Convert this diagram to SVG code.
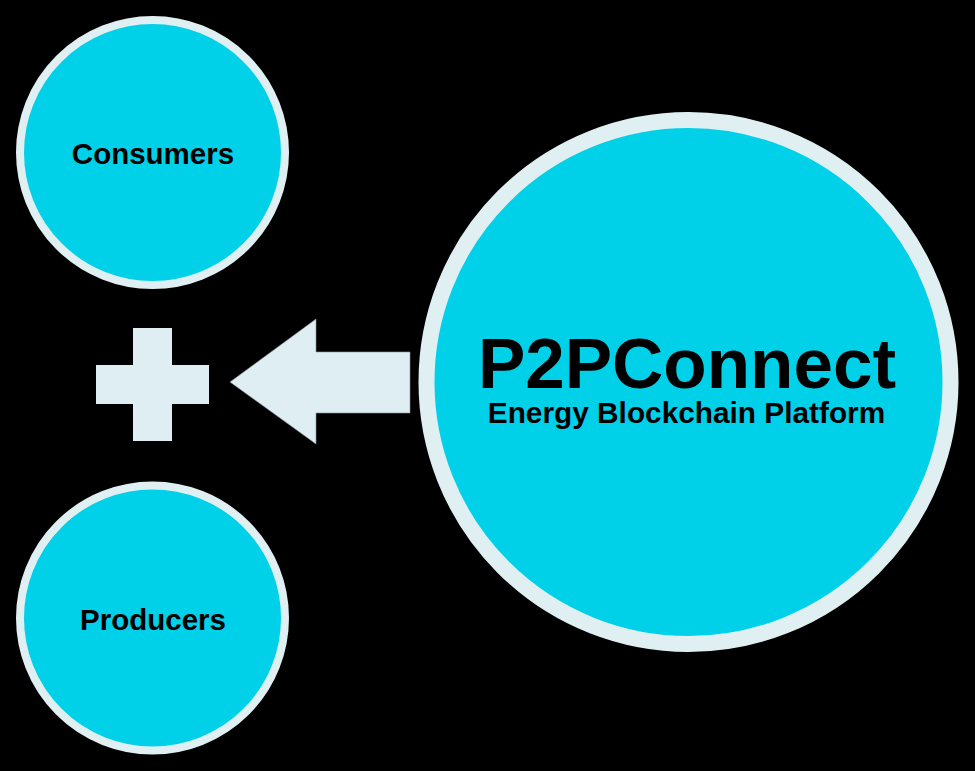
<svg xmlns="http://www.w3.org/2000/svg" width="975" height="771" viewBox="0 0 975 771">
<style>
.ring{fill:#00D0E8;stroke:#DFEFF2}
.lbl{font-family:"Liberation Sans",Arial,sans-serif;font-weight:bold;fill:#000;text-anchor:middle}
.shape{fill:#DFEEF2}
</style>
<rect width="975" height="771" fill="#000"/>
<g id="consumers">
<circle class="ring" cx="152.5" cy="152.5" r="132.5" stroke-width="8"/>
<text class="lbl" x="153" y="164" font-size="29.5">Consumers</text>
</g>
<g id="producers">
<circle class="ring" cx="152.5" cy="618" r="132.5" stroke-width="8"/>
<text class="lbl" x="153" y="629.5" font-size="29.5">Producers</text>
</g>
<g id="plus">
<rect class="shape" x="96" y="365" width="113" height="39"/>
<rect class="shape" x="133" y="328" width="39" height="113"/>
</g>
<g id="connectors">
<polygon class="shape" points="230,382 316,319 316,352 410,352 410,413 316,413 316,444" stroke="#8a9699" stroke-width="0.6"/>
</g>
<g id="p2pconnect">
<circle class="ring" cx="688.5" cy="382" r="262" stroke-width="16"/>
<text class="lbl" x="687" y="387.5" font-size="71">P2PConnect</text>
<text class="lbl" x="686.5" y="422.5" font-size="29.8">Energy Blockchain Platform</text>
</g>
</svg>
